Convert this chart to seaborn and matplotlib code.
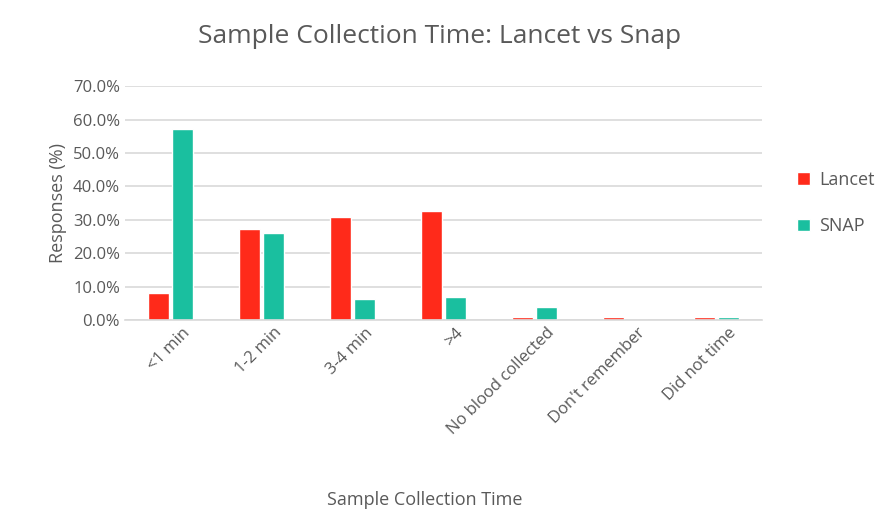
import matplotlib.pyplot as plt
import matplotlib.transforms as mtransforms
import seaborn as sns
import pandas as pd
from matplotlib.ticker import PercentFormatter

categories = ["<1 min", "1-2 min", "3-4 min", ">4", "No blood collected", "Don't remember", "Did not time"]
lancet = [8.0, 27.1, 30.7, 32.5, 1.0, 1.0, 1.0]
snap = [57.2, 26.1, 6.2, 6.8, 3.8, 0.0, 1.0]
series = ["Lancet", "SNAP"]
colors = ["#FF2A1A", "#1ABF9F"]

df = pd.DataFrame({
    "Time": categories * 2,
    "Group": [series[0]] * len(categories) + [series[1]] * len(categories),
    "Value": lancet + snap,
})

sns.set_style("white")
plt.rcParams['font.family'] = ['Open Sans', 'DejaVu Sans']
gray = "#595959"

fig = plt.figure(figsize=(8.79, 5.16), dpi=100)
ax = fig.add_axes([0.142, 0.38, 0.725, 0.453])
sns.barplot(data=df, x="Time", y="Value", hue="Group", palette=colors,
            width=0.52, gap=0.12, ax=ax, saturation=1)

ax.set_ylim(0, 70)
ax.set_yticks(range(0, 71, 10))
ax.yaxis.set_major_formatter(PercentFormatter(decimals=1))
ax.grid(axis="y", color="#d9d9d9", linewidth=1.2)
ax.set_axisbelow(True)
for s in ["top", "right", "left"]:
    ax.spines[s].set_visible(False)
ax.spines["bottom"].set_color("#d9d9d9")
ax.spines["bottom"].set_linewidth(1.2)
ax.tick_params(axis="both", length=0, colors=gray, labelsize=12)
# nudge rotated labels right, like the original
offset = mtransforms.ScaledTranslation(12 / 100, 0, fig.dpi_scale_trans)
for lbl in ax.get_xticklabels():
    lbl.set_rotation(45)
    lbl.set_ha("right")
    lbl.set_rotation_mode("anchor")
    lbl.set_transform(lbl.get_transform() + offset)

ax.set_xlabel("Sample Collection Time", color=gray, fontsize=13)
ax.xaxis.set_label_coords(0.47, -0.73)
ax.set_ylabel("Responses (%)", color=gray, fontsize=13)
fig.text(0.5, 0.93, "Sample Collection Time: Lancet vs Snap", ha="center", va="center",
         color=gray, fontsize=19)

leg = ax.legend(loc="center left", bbox_to_anchor=(1.03, 0.5), frameon=False,
                fontsize=13, handlelength=0.7, handleheight=0.7,
                handletextpad=0.5, labelspacing=1.6)
for t in leg.get_texts():
    t.set_color(gray)

fig.savefig("out.png", dpi=100)
